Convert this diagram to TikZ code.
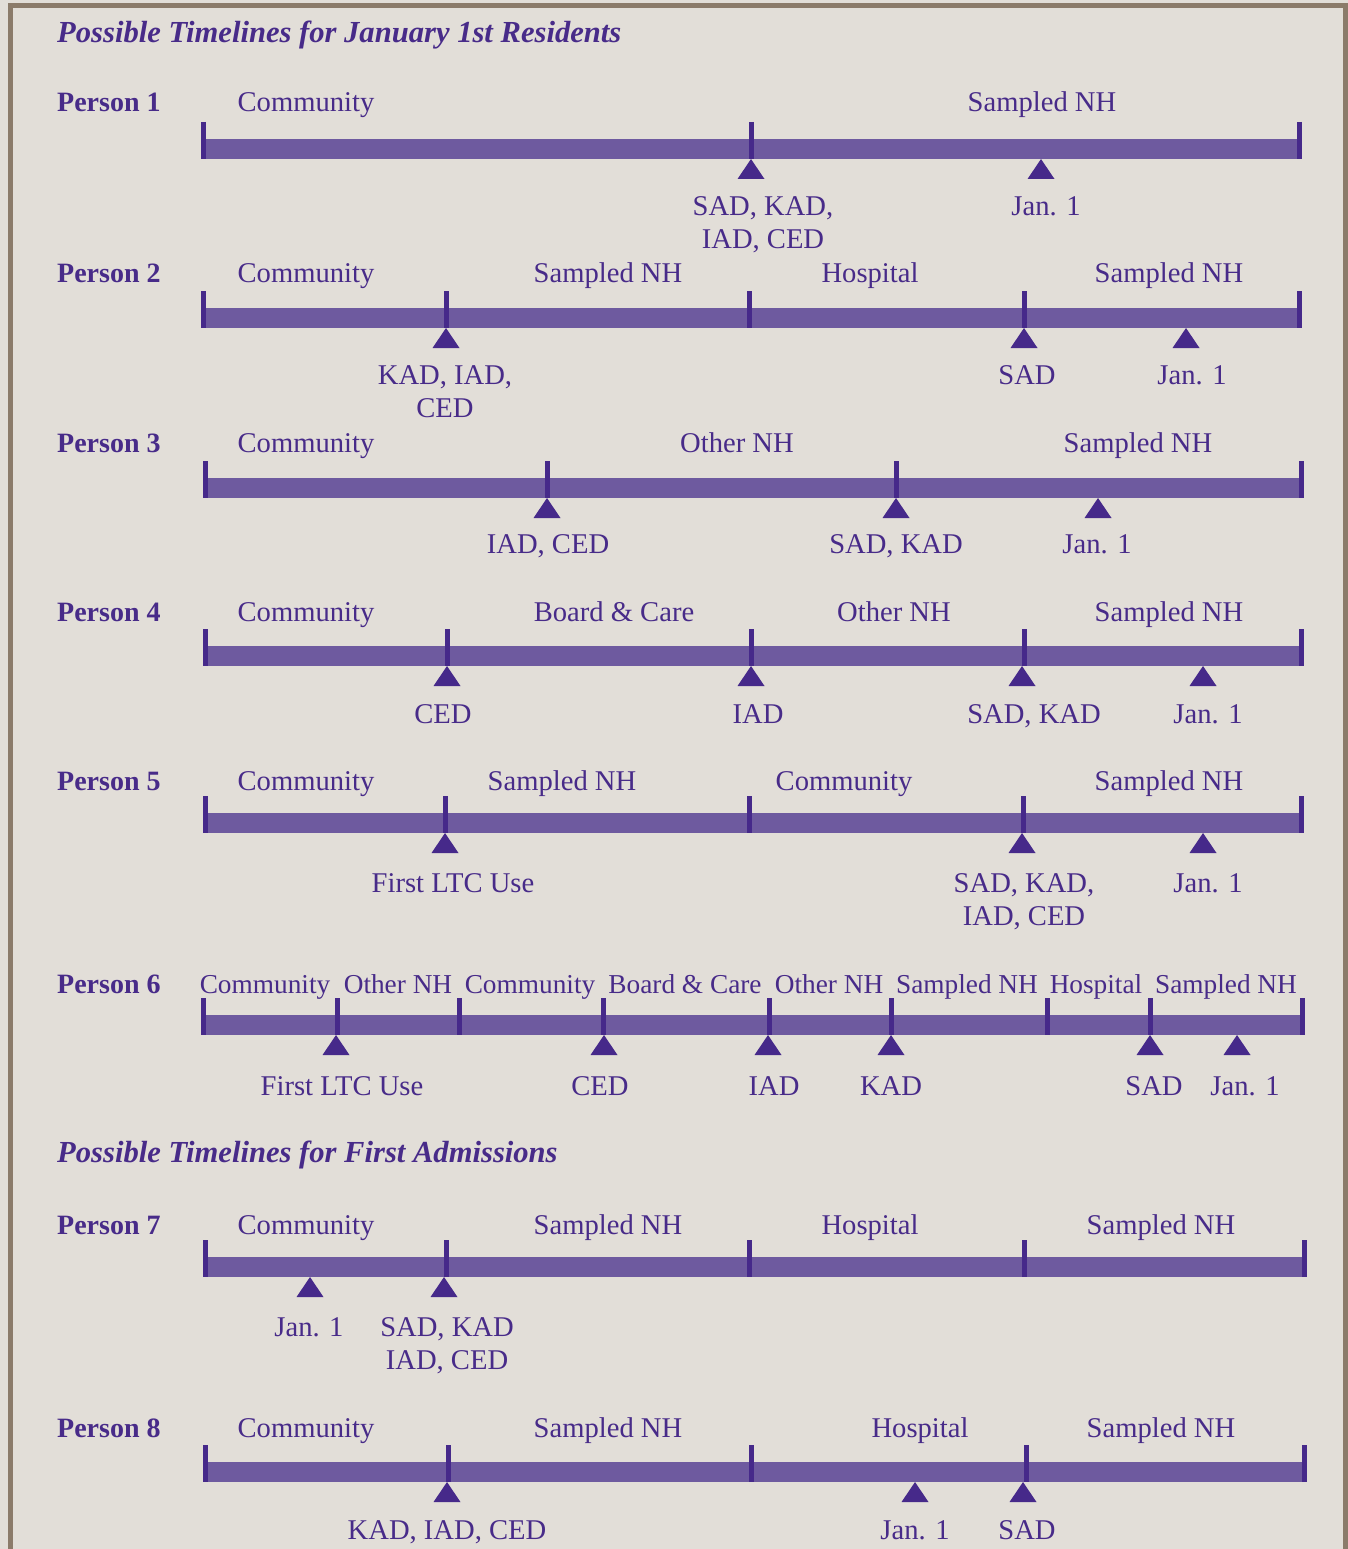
\documentclass[tikz,border=0pt]{standalone}
\usepackage{fontspec}
\setmainfont{Liberation Serif}
\definecolor{bgc}{HTML}{E2DED8}
\definecolor{framec}{HTML}{8B7B6A}
\definecolor{barc}{HTML}{6E5A9F}
\definecolor{darkc}{HTML}{46298A}
\definecolor{txtc}{HTML}{482B89}
\tikzset{
  barline/.style={draw=barc,line width=20pt},
  tickline/.style={draw=darkc,line width=5pt},
  seg/.style={text=txtc,anchor=base,inner sep=0pt,font=\fontsize{28.6}{33}\selectfont,align=center},
  segsm/.style={seg,font=\fontsize{27.3}{33}\selectfont},
  who/.style={text=txtc,anchor=base west,inner sep=0pt,font=\fontsize{28}{33}\selectfont\bfseries},
  ttl/.style={text=txtc,anchor=base west,inner sep=0pt,font=\fontsize{30.6}{33}\selectfont\bfseries\itshape},
  tri/.pic={\fill[darkc] (-13.5,20) -- (13.5,20) -- (0,0) -- cycle;}
}
% #1 bar centre y, #2 left x, #3 right x, #4 tick xs, #5 triangle xs
\newcommand\tlrow[5]{%
  \draw[barline] (#2,#1) -- (#3,#1);
  \foreach \xx in {#2,#4,#3} {\draw[tickline] (\xx,{#1-27}) -- (\xx,{#1+10});}
  \foreach \xx in {#5} {\pic at (\xx,{#1+10}) {tri};}
}
\begin{document}
\begin{tikzpicture}[x=1pt,y=-1pt]
\useasboundingbox (0,0) rectangle (1348,1549);
\fill[bgc] (0,0) rectangle (1348,1549);
\draw[framec,line width=5pt] (10.5,1549) -- (10.5,5.5) -- (1345.5,5.5) -- (1345.5,1549);

\node[ttl] (t1) at (57,43) {Possible Timelines for January 1st Residents};

% Person 1
\node[who] (n1) at (57,112) {Person 1};
\tlrow{149}{203}{1299}{751}{751,1041}
\node[seg] (p1a) at (306,112) {Community};
\node[seg] (p1b) at (1042,112) {Sampled NH};
\node[seg] (p1c) at (763,248) {SAD, KAD,\\IAD, CED};
\node[seg] (p1d) at (1046,215) {Jan. 1};

% Person 2
\node[who] (n2) at (57,282) {Person 2};
\tlrow{318}{203}{1299}{446,749,1024}{446,1024,1186}
\node[seg] (p2a) at (306,282) {Community};
\node[seg] (p2b) at (608,282) {Sampled NH};
\node[seg] (p2c) at (870,282) {Hospital};
\node[seg] (p2d) at (1169,282) {Sampled NH};
\node[seg] (p2e) at (445,417) {KAD, IAD,\\CED};
\node[seg] (p2f) at (1027,384) {SAD};
\node[seg] (p2g) at (1192,384) {Jan. 1};

% Person 3
\node[who] (n3) at (57,452) {Person 3};
\tlrow{488}{205}{1301}{547,896}{547,896,1098}
\node[seg] (p3a) at (306,452) {Community};
\node[seg] (p3b) at (737,452) {Other NH};
\node[seg] (p3c) at (1138,452) {Sampled NH};
\node[seg] (p3d) at (548,553) {IAD, CED};
\node[seg] (p3e) at (896,553) {SAD, KAD};
\node[seg] (p3f) at (1097,553) {Jan. 1};

% Person 4
\node[who] (n4) at (57,621) {Person 4};
\tlrow{656}{205}{1301}{447,751,1024}{447,751,1022,1203}
\node[seg] (p4a) at (306,621) {Community};
\node[seg] (p4b) at (614,621) {Board \& Care};
\node[seg] (p4c) at (894,621) {Other NH};
\node[seg] (p4d) at (1169,621) {Sampled NH};
\node[seg] (p4e) at (443,723) {CED};
\node[seg] (p4f) at (758,723) {IAD};
\node[seg] (p4g) at (1034,723) {SAD, KAD};
\node[seg] (p4h) at (1208,723) {Jan. 1};

% Person 5
\node[who] (n5) at (57,790) {Person 5};
\tlrow{823}{205}{1301}{445,749,1023}{445,1022,1203}
\node[seg] (p5a) at (306,790) {Community};
\node[seg] (p5b) at (562,790) {Sampled NH};
\node[seg] (p5c) at (844,790) {Community};
\node[seg] (p5d) at (1169,790) {Sampled NH};
\node[seg] (p5e) at (453,892) {First LTC Use};
\node[seg] (p5f) at (1024,925) {SAD, KAD,\\IAD, CED};
\node[seg] (p5g) at (1208,892) {Jan. 1};

% Person 6
\node[who] (n6) at (57,993) {Person 6};
\tlrow{1025}{203}{1302}{337,459,603,769,891,1047,1150}{336,604,768,891,1150,1237}
\node[segsm] (p6a) at (265,993) {Community};
\node[segsm] (p6b) at (398,993) {Other NH};
\node[segsm] (p6c) at (530,993) {Community};
\node[segsm] (p6d) at (685,993) {Board \& Care};
\node[segsm] (p6e) at (829,993) {Other NH};
\node[segsm] (p6f) at (967,993) {Sampled NH};
\node[segsm] (p6g) at (1096,993) {Hospital};
\node[segsm] (p6h) at (1226,993) {Sampled NH};
\node[seg] (p6i) at (342,1095) {First LTC Use};
\node[seg] (p6j) at (600,1095) {CED};
\node[seg] (p6k) at (774,1095) {IAD};
\node[seg] (p6l) at (891,1095) {KAD};
\node[seg] (p6m) at (1154,1095) {SAD};
\node[seg] (p6n) at (1245,1095) {Jan. 1};

\node[ttl] (t2) at (57,1162) {Possible Timelines for First Admissions};

% Person 7
\node[who] (n7) at (57,1234) {Person 7};
\tlrow{1267}{205}{1304}{446,749,1024}{310,444}
\node[seg] (p7a) at (306,1234) {Community};
\node[seg] (p7b) at (608,1234) {Sampled NH};
\node[seg] (p7c) at (870,1234) {Hospital};
\node[seg] (p7d) at (1161,1234) {Sampled NH};
\node[seg] (p7e) at (309,1336) {Jan. 1};
\node[seg] (p7f) at (447,1369) {SAD, KAD\\IAD, CED};

% Person 8
\node[who] (n8) at (57,1437) {Person 8};
\tlrow{1472}{205}{1304}{448,751,1026}{447,915,1023}
\node[seg] (p8a) at (306,1437) {Community};
\node[seg] (p8b) at (608,1437) {Sampled NH};
\node[seg] (p8c) at (920,1437) {Hospital};
\node[seg] (p8d) at (1161,1437) {Sampled NH};
\node[seg] (p8e) at (447,1539) {KAD, IAD, CED};
\node[seg] (p8f) at (915,1539) {Jan. 1};
\node[seg] (p8g) at (1027,1539) {SAD};
\end{tikzpicture}
\end{document}
